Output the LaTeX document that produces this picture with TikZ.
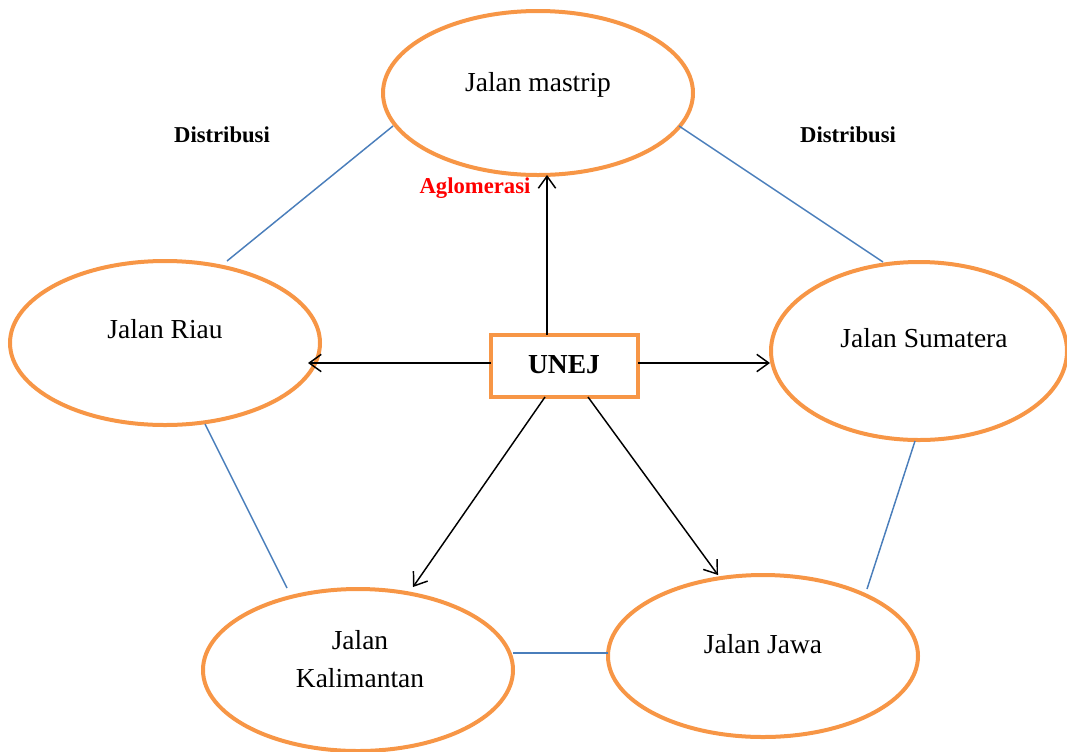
\documentclass[tikz,border=0pt]{standalone}
\usepackage{fontspec}
\setmainfont{Liberation Serif}
\usetikzlibrary{arrows.meta,shapes.geometric}
\definecolor{ringorange}{HTML}{F79646}
\definecolor{linkblue}{HTML}{4A7EBB}
\begin{document}
\begin{tikzpicture}[x=0.75pt,y=-0.75pt,
  ell/.style={ellipse,draw=ringorange,line width=3pt,inner sep=0pt,outer sep=0pt},
  hub/.style={rectangle,draw=ringorange,line width=3pt,inner sep=0pt,outer sep=0pt,fill=white},
  lbl/.style={anchor=base,inner sep=0pt,font=\fontsize{20.6}{24}\selectfont},
  tag/.style={anchor=base,inner sep=0pt,font=\fontsize{17}{20}\selectfont\bfseries},
  link/.style={draw=linkblue,line width=1.1pt},
  arr/.style={draw=black,line width=1.1pt,-{Straight Barb[length=9pt,width=13pt,line width=1.1pt]}}]
\useasboundingbox (0,0) rectangle (1067,751);
% ellipses
\node[ell,minimum width=310*0.75pt,minimum height=164*0.75pt] (m) at (538,93) {};
\node[ell,minimum width=310*0.75pt,minimum height=164*0.75pt] (r) at (165,343) {};
\node[ell,minimum width=296*0.75pt,minimum height=178*0.75pt] (s) at (919,351) {};
\node[ell,minimum width=310*0.75pt,minimum height=162*0.75pt] (k) at (358,670) {};
\node[ell,minimum width=310*0.75pt,minimum height=162*0.75pt] (j) at (763,656) {};
\node[hub,minimum width=147*0.75pt,minimum height=62*0.75pt] (u) at (564,366) {};
% texts
\node[lbl] (tm) at (538,91) {Jalan mastrip};
\node[lbl] (tr) at (165,338) {Jalan Riau};
\node[lbl] (ts) at (924,347) {Jalan Sumatera};
\node[lbl] (tk1) at (360,649) {Jalan};
\node[lbl] (tk2) at (360,687) {Kalimantan};
\node[lbl] (tj) at (763,653) {Jalan Jawa};
\node[lbl,font=\fontsize{20.6}{24}\selectfont\bfseries] (tu) at (564,373) {UNEJ};
\node[tag] (d1) at (222,142) {Distribusi};
\node[tag] (d2) at (848,142) {Distribusi};
\node[tag,text=red] (ag) at (475,193) {Aglomerasi};
% blue links
\draw[link] ([shift={(-145,33)}]m.center) -- ([shift={(62,-82)}]r.center);
\draw[link] ([shift={(141,33)}]m.center) -- ([shift={(-36,-89)}]s.center);
\draw[link] ([shift={(40,81)}]r.center) -- ([shift={(-71,-82)}]k.center);
\draw[link] ([shift={(-4,90)}]s.center) -- ([shift={(104,-67)}]j.center);
\draw[link] ([shift={(155,-17)}]k.center) -- ([shift={(-155,-3)}]j.center);
% arrows
\draw[arr] ([shift={(-17,-31)}]u.center) -- ([shift={(9,82)}]m.center);
\draw[arr] ([shift={(-73,-3)}]u.center) -- ([shift={(143,20)}]r.center);
\draw[arr] ([shift={(74,-3)}]u.center) -- ([shift={(-149,12)}]s.center);
\draw[arr] ([shift={(-19,31)}]u.center) -- ([shift={(55,-83)}]k.center);
\draw[arr] ([shift={(24,31)}]u.center) -- ([shift={(-45,-81)}]j.center);
\end{tikzpicture}
\end{document}
